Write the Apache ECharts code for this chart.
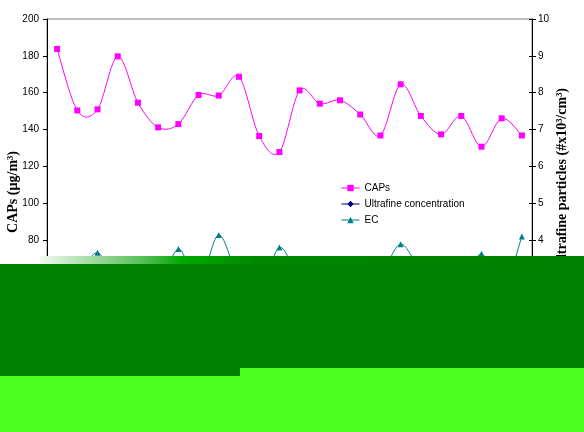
<!DOCTYPE html>
<html>
<head>
<meta charset="utf-8">
<script src="https://cdn.jsdelivr.net/npm/echarts@6/dist/echarts.min.js"></script>
<style>
html,body{margin:0;padding:0;background:#fff;}
#c{width:584px;height:432px;}
</style>
</head>
<body>
<div id="c"></div>
<script>
// Categories (sampling days)
const categories = ['1','2','3','4','5','6','7','8','9','10','11','12','13','14','15','16','17','18','19','20','21','22','23','24'];
// CAPs concentration (µg/m³), left axis
const capsValues = [183.7, 150.3, 150.9, 179.7, 154.5, 141.1, 142.9, 158.7, 158.4, 168.6, 136.4, 127.7, 161.2, 154.0, 155.8, 148.1, 136.7, 164.5, 147.3, 137.3, 147.3, 130.6, 146.0, 136.7];
// Ultrafine concentration (#x10³/cm³), right axis (hidden under the green overlay in the reference; estimated)
const ultrafineValues = [1.6, 1.9, 2.2, 1.8, 1.5, 1.7, 2.0, 2.4, 2.1, 1.8, 1.6, 2.3, 1.9, 1.7, 2.0, 1.8, 1.5, 2.2, 1.9, 1.6, 1.8, 2.1, 1.7, 2.0];
// EC, right axis scale
const ecValues = [2.4, 2.9, 3.65, 2.7, 2.3, 2.6, 3.75, 2.8, 4.13, 2.9, 2.5, 3.79, 2.9, 2.7, 2.5, 2.6, 3.0, 3.88, 3.1, 2.4, 2.7, 3.62, 2.6, 4.09];
// Axis settings
const leftAxisMin = 0, leftAxisMax = 200, leftAxisStep = 20;
const rightAxisMin = 0, rightAxisMax = 10, rightAxisStep = 1;
const leftTitle = 'CAPs (µg/m³)';
const rightTitle = 'Ultrafine particles (#x10³/cm³)';
const seriesNames = ['CAPs', 'Ultrafine concentration', 'EC'];
const seriesColors = ['#ff00ff', '#000080', '#008080'];

const chart = echarts.init(document.getElementById('c'), null, {renderer: 'canvas'});
const labelFont = {fontFamily: 'Liberation Sans, Arial, sans-serif', fontSize: 10, color: '#000'};

// Spreadsheet-style smoothed curve: each data item draws the Bezier segment to the next item,
// with control points taken from the neighbouring points (positions come from the axes via api.coord).
function smoothCurve(values, color) {
  const n = values.length;
  return function (params, api) {
    const i = params.dataIndex;
    if (i >= n - 1) return null;
    const pt = k => { const j = Math.max(0, Math.min(n - 1, k)); return api.coord([j, values[j]]); };
    const p0 = pt(i - 1), p1 = pt(i), p2 = pt(i + 1), p3 = pt(i + 2);
    const t = 1 / 6;
    return {
      type: 'bezierCurve', silent: true,
      shape: {
        x1: p1[0], y1: p1[1], x2: p2[0], y2: p2[1],
        cpx1: p1[0] + (p2[0] - p0[0]) * t, cpy1: p1[1] + (p2[1] - p0[1]) * t,
        cpx2: p2[0] - (p3[0] - p1[0]) * t, cpy2: p2[1] - (p3[1] - p1[1]) * t
      },
      style: {stroke: color, lineWidth: 1, fill: 'none'}
    };
  };
}

function markerSeries(idx, values, axis, symbol, size) {
  return {name: seriesNames[idx], type: 'line', yAxisIndex: axis, data: values, z: 3,
    symbol: symbol, symbolSize: size,
    lineStyle: {color: seriesColors[idx], width: 1, opacity: 0}, itemStyle: {color: seriesColors[idx]}};
}
function curveSeries(idx, values, axis) {
  return {name: seriesNames[idx] + ' curve', type: 'custom', yAxisIndex: axis, z: 2, silent: true, clip: false,
    data: values.map((v, i) => [i, v]), renderItem: smoothCurve(values, seriesColors[idx])};
}

chart.setOption({
  animation: false,
  backgroundColor: '#fff',
  grid: {left: 47, right: 52, top: 19, bottom: 45, show: true, borderColor: '#808080', borderWidth: 1, backgroundColor: '#fff'},
  legend: {
    orient: 'vertical', left: 336, top: 177, itemWidth: 18, itemHeight: 8, itemGap: 4,
    textStyle: Object.assign({lineHeight: 12}, labelFont),
    data: seriesNames.map((nm, i) => ({name: nm, lineStyle: {color: seriesColors[i], opacity: 1, width: 1}}))
  },
  xAxis: {type: 'category', data: categories, boundaryGap: true, show: false},
  yAxis: [
    {type: 'value', position: 'left', min: leftAxisMin, max: leftAxisMax, interval: leftAxisStep,
     axisLine: {show: true, lineStyle: {color: '#000', width: 1}},
     axisTick: {show: true, inside: false, length: 4, lineStyle: {color: '#000'}},
     axisLabel: Object.assign({margin: 8}, labelFont),
     splitLine: {show: false}},
    {type: 'value', position: 'right', min: rightAxisMin, max: rightAxisMax, interval: rightAxisStep,
     axisLine: {show: true, lineStyle: {color: '#000', width: 1}},
     axisTick: {show: true, inside: false, length: 4, lineStyle: {color: '#000'}},
     axisLabel: Object.assign({margin: 6}, labelFont),
     splitLine: {show: false}},
    {type: 'value', position: 'right', min: rightAxisMin, max: rightAxisMax, interval: rightAxisStep,
     axisLine: {show: false},
     axisTick: {show: true, inside: true, length: 3, lineStyle: {color: '#000'}},
     axisLabel: {show: false},
     splitLine: {show: false}}
  ],
  series: [
    markerSeries(0, capsValues, 0, 'rect', 6),
    markerSeries(1, ultrafineValues, 1, 'diamond', 5),
    markerSeries(2, ecValues, 1, 'triangle', 6),
    curveSeries(0, capsValues, 0),
    curveSeries(1, ultrafineValues, 1),
    curveSeries(2, ecValues, 1)
  ],
  graphic: [
    {type: 'text', x: 13, y: 192, rotation: Math.PI / 2,
     style: {text: leftTitle, font: 'bold 14px "Liberation Serif", "Times New Roman", serif', fill: '#000', textAlign: 'center', textVerticalAlign: 'middle'}},
    {type: 'text', x: 562, y: 88, rotation: Math.PI / 2,
     style: {text: rightTitle, font: 'bold 14px "Liberation Serif", "Times New Roman", serif', fill: '#000', textAlign: 'right', textVerticalAlign: 'middle'}},
    // green overlay blocks present in the reference picture
    {type: 'rect', z: 100, shape: {x: 40, y: 256, width: 544, height: 8},
     style: {fill: new echarts.graphic.LinearGradient(0, 0, 1, 0, [
       {offset: 0, color: '#f2fbf2'}, {offset: 0.06, color: '#bfe6bf'}, {offset: 0.12, color: '#8fd38f'},
       {offset: 0.2, color: '#4cbb4c'}, {offset: 0.26, color: '#00aa00'}, {offset: 0.4, color: '#008800'}, {offset: 1, color: '#008000'}
     ])}},
    {type: 'rect', z: 100, shape: {x: 0, y: 264, width: 584, height: 104}, style: {fill: '#008000'}},
    {type: 'rect', z: 100, shape: {x: 0, y: 368, width: 240, height: 8}, style: {fill: '#008000'}},
    {type: 'rect', z: 100, shape: {x: 240, y: 368, width: 344, height: 8}, style: {fill: '#4cff1f'}},
    {type: 'rect', z: 100, shape: {x: 0, y: 376, width: 584, height: 56}, style: {fill: '#4cff1f'}}
  ]
});
</script>
</body>
</html>
